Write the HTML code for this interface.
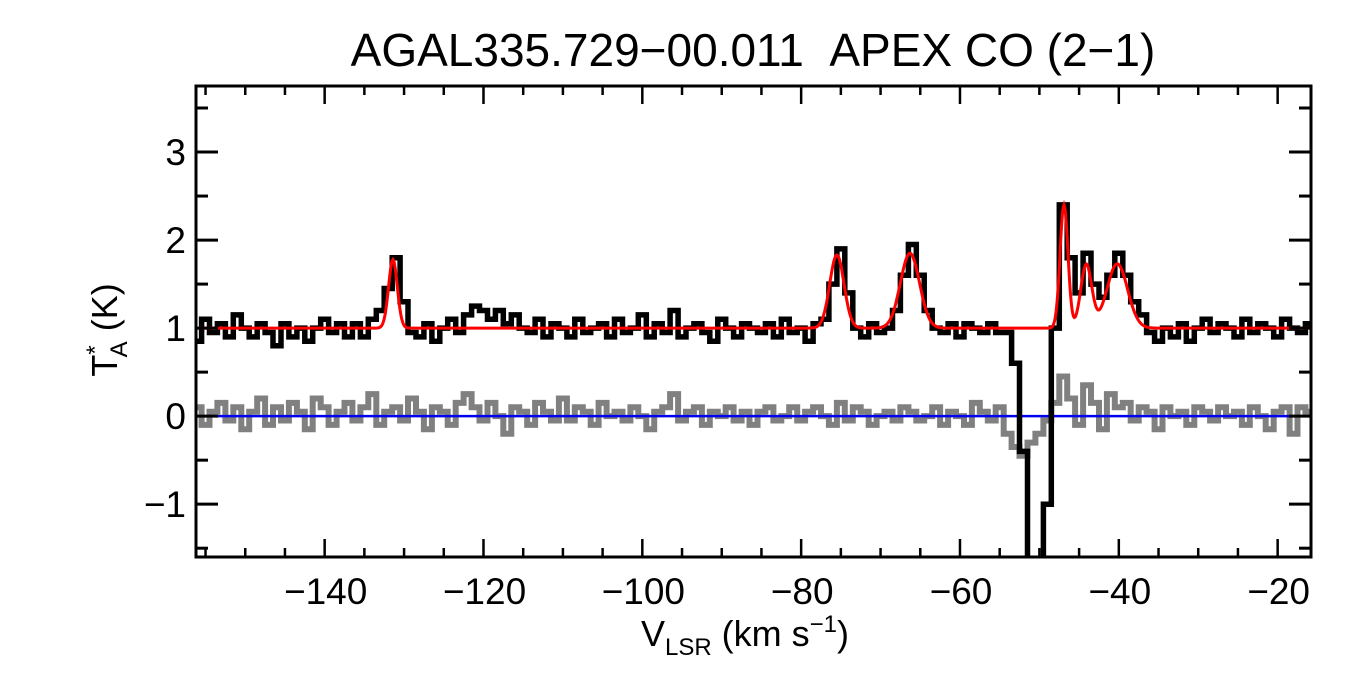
<!DOCTYPE html>
<html><head><meta charset="utf-8"><style>
body{margin:0;background:#fff;}
svg{display:block;font-family:"Liberation Sans",Arial,sans-serif;}
</style></head><body>
<svg id="chart" width="1350" height="675" xmlns="http://www.w3.org/2000/svg">
<text x="753" y="66" font-size="46" text-anchor="middle">AGAL335.729−00.011&#160;&#160;APEX CO (2−1)</text>
<g id="plot"></g>
<g id="axes"></g>
<text transform="translate(117,330) rotate(-90)" font-size="36" text-anchor="middle">T<tspan dy="-14" font-size="24">*</tspan><tspan dy="24" dx="-12" font-size="24">A</tspan><tspan dy="-10"> (K)</tspan></text>
<text x="745" y="646" font-size="36" text-anchor="middle">V<tspan dy="9" font-size="24">LSR</tspan><tspan dy="-9"> (km s</tspan><tspan dy="-14" font-size="24">−1</tspan><tspan dy="14">)</tspan></text>
</svg>
<script>
const velStart = -156;
const observed = [
0.85,1.1,0.95,1.05,0.9,1.15,1.0,0.9,1.05,0.95,
0.8,1.05,0.9,1.0,0.85,1.0,1.1,0.95,1.05,0.9,
1.05,0.9,1.1,1.2,1.45,1.8,1.3,0.95,0.9,1.05,
0.85,1.0,1.1,0.95,1.15,1.25,1.2,1.1,1.2,1.05,
1.15,1.0,0.95,1.1,0.9,1.05,1.0,0.9,1.1,0.95,
1.0,1.05,0.9,1.1,0.95,1.0,1.15,0.9,1.05,0.95,
1.2,0.9,1.0,1.05,0.95,0.85,1.1,1.0,0.9,1.05,
1.0,0.95,1.05,0.9,1.1,0.95,1.0,0.85,1.05,1.1,
1.5,1.9,1.4,1.0,0.9,1.05,0.95,1.0,1.2,1.6,
1.95,1.6,1.2,1.0,0.95,1.05,0.9,1.05,1.0,0.95,
1.05,0.95,0.95,0.6,-0.4,-2.2,-2.2,-1.0,1.0,2.4,
1.8,1.4,1.85,1.5,1.35,1.6,1.85,1.6,1.3,1.15,
0.95,0.85,1.0,0.9,1.05,0.85,1.0,1.1,0.95,1.05,
1.0,0.9,1.1,0.95,1.05,1.0,0.9,1.1,1.0,0.95,1.05];
const residual = [
0.1,-0.1,0.05,0.15,-0.05,0.1,-0.15,0.05,0.2,-0.1,
0.1,-0.05,0.15,0.05,-0.15,0.2,0.1,-0.1,0.05,0.15,
-0.05,0.1,0.25,-0.1,0.05,0.1,-0.05,0.2,0.05,-0.15,
0.1,0.05,-0.1,0.15,0.25,0.1,-0.05,0.15,0.0,-0.2,
0.1,0.05,-0.1,0.15,0.05,-0.05,0.2,-0.05,0.1,0.05,
-0.1,0.15,0.0,0.05,-0.05,0.1,0.0,-0.15,0.05,0.1,
0.25,-0.05,0.05,0.1,-0.1,0.05,0.0,0.1,-0.05,0.05,
-0.1,0.05,0.1,-0.05,0.0,0.1,-0.05,0.05,0.1,0.0,
-0.1,0.15,-0.05,0.1,0.05,-0.1,0.0,0.05,-0.05,0.1,
0.05,-0.05,0.0,0.1,-0.1,0.05,0.0,-0.1,0.15,0.05,
-0.05,0.1,-0.2,-0.35,-0.45,-0.3,-0.2,-0.05,0.15,0.45,
0.2,-0.1,0.35,0.15,-0.15,0.25,0.1,0.15,-0.05,0.1,
0.05,-0.15,0.1,0.0,0.05,-0.1,0.1,0.05,-0.05,0.1,
0.0,0.05,-0.1,0.1,0.0,-0.15,0.05,0.1,-0.2,0.1,0.05];
const fitCenters = [-131.4,-75.5,-66.3,-46.9,-44.1,-40.2];
const fitAmps = [0.78,0.83,0.85,1.4,0.72,0.73];
const fitSigmas = [0.55,0.9,1.2,0.5,0.7,1.3];
const fitBaseline = 1;
const xTicks = [-140,-120,-100,-80,-60,-40,-20];
const yTicks = [-1,0,1,2,3];

const L=196,R=1311,T=86,B=557, xmin=-156.2,xmax=-15.8,ymin=-1.6,ymax=3.75;
const sx=v=>L+(v-xmin)/(xmax-xmin)*(R-L);
const sy=y=>B-(y-ymin)/(ymax-ymin)*(B-T);
const NS="http://www.w3.org/2000/svg";
const plot=document.getElementById('plot'), axes=document.getElementById('axes');
function mk(tag,attrs,parent){const e=document.createElementNS(NS,tag);for(const k in attrs)e.setAttribute(k,attrs[k]);parent.appendChild(e);return e;}
const clip=mk('clipPath',{id:'cp'},plot);mk('rect',{x:L,y:T,width:R-L,height:B-T},clip);
function stepPath(arr){let d='';arr.forEach((y,i)=>{const v=velStart+i;const x0=sx(Math.max(v-0.5,xmin)),x1=sx(Math.min(v+0.5,xmax));d+=(i?'L':'M')+x0.toFixed(1)+','+sy(y).toFixed(1)+'L'+x1.toFixed(1)+','+sy(y).toFixed(1);});return d;}
const g=mk('g',{'clip-path':'url(#cp)'},plot);
const res=mk('path',{d:stepPath(residual),fill:'none',stroke:'#808080','stroke-width':6},g);


const zl=mk('line',{x1:L,x2:R,y1:sy(0),y2:sy(0),stroke:'#0000ee','stroke-width':2.5},g);


const obs=mk('path',{d:stepPath(observed),fill:'none',stroke:'#000','stroke-width':5.5},g);


let fd='';for(let v=xmin;v<=xmax;v+=0.1){let y=fitBaseline;fitCenters.forEach((c,k)=>{y+=fitAmps[k]*Math.exp(-0.5*((v-c)/fitSigmas[k])**2);});fd+=(fd?'L':'M')+sx(v).toFixed(1)+','+sy(y).toFixed(1);}
const fit=mk('path',{d:fd,fill:'none',stroke:'#ff0000','stroke-width':3},g);


const fr=mk('rect',{x:L,y:T,width:R-L,height:B-T,fill:'none',stroke:'#000','stroke-width':3},axes);


for(let v=-155;v<=-16;v+=5){const maj=(v%20===0);const len=maj?18:9;const x=sx(v);
mk('line',{x1:x,x2:x,y1:B,y2:B-len,stroke:'#000','stroke-width':2.5},axes);
mk('line',{x1:x,x2:x,y1:T,y2:T+len,stroke:'#000','stroke-width':2.5},axes);}
xTicks.forEach(v=>{const t=mk('text',{x:sx(v)+1,y:604,'font-size':37,'text-anchor':'middle'},axes);t.textContent='−'+Math.abs(v);

});
for(let y=-1.5;y<=3.5;y+=0.5){const maj=Number.isInteger(y);const len=maj?22:12;const yy=sy(y);
mk('line',{x1:L,x2:L+len,y1:yy,y2:yy,stroke:'#000','stroke-width':3},axes);
mk('line',{x1:R,x2:R-len,y1:yy,y2:yy,stroke:'#000','stroke-width':3},axes);}
yTicks.forEach(y=>{const t=mk('text',{x:186,y:sy(y)+13,'font-size':37,'text-anchor':'end'},axes);t.textContent=y<0?'−'+Math.abs(y):String(y);

});
</script>
</body></html>
